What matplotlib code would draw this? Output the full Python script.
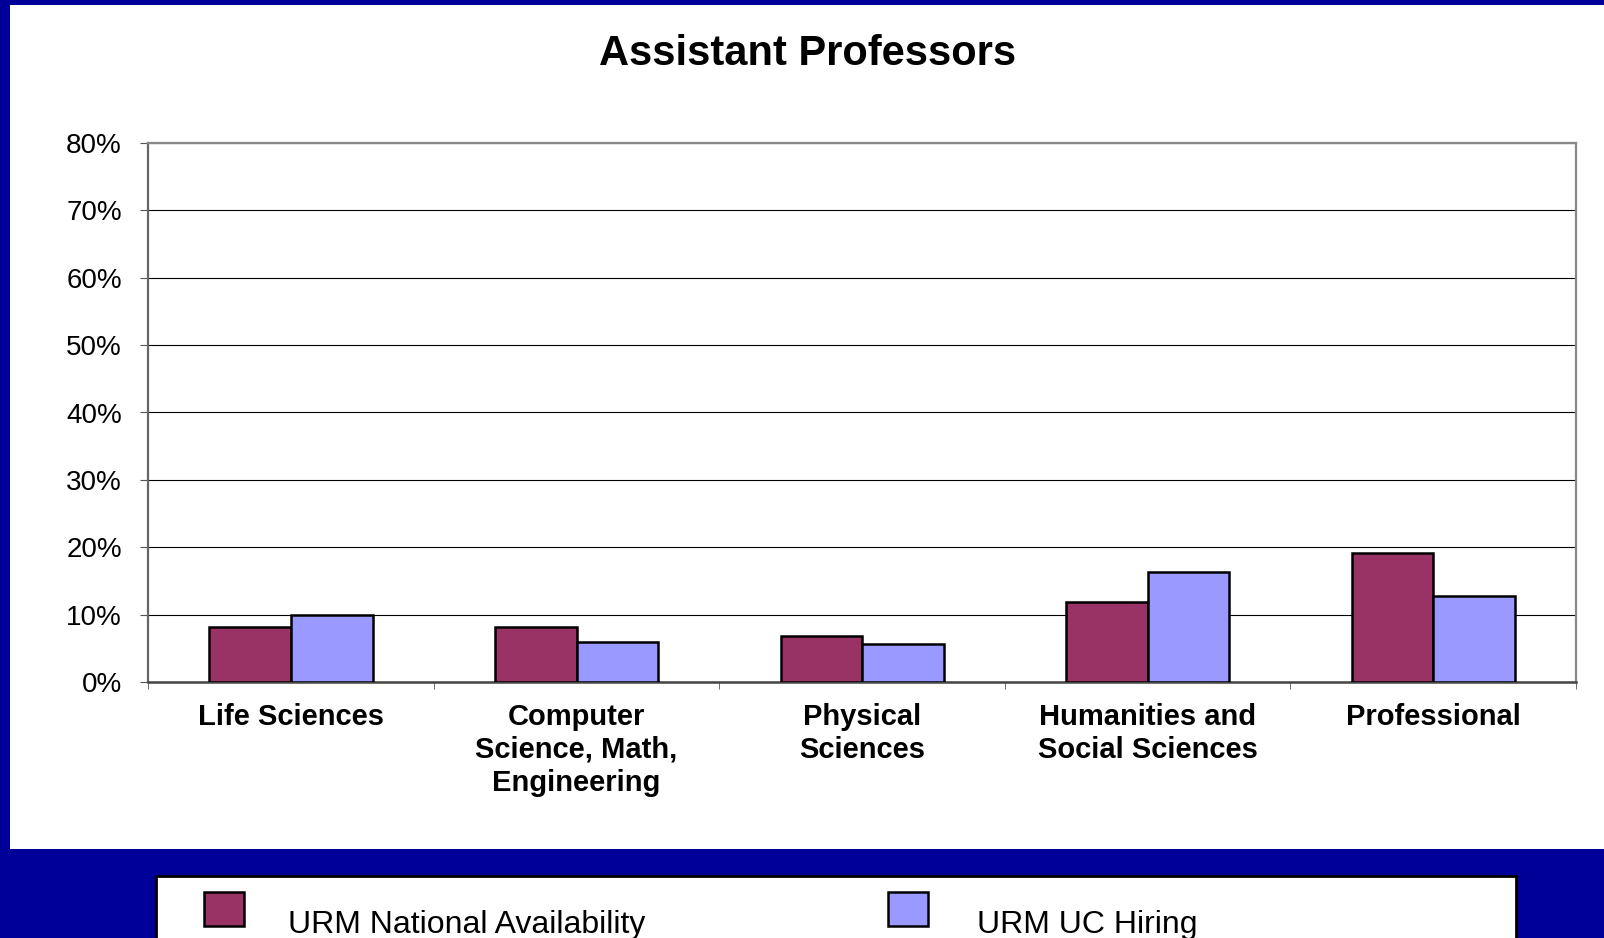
import numpy as np
import matplotlib
matplotlib.use("Agg")
import matplotlib.pyplot as plt
from matplotlib.patches import Rectangle

# Data (percent)
categories = ["Life Sciences",
              "Computer\nScience, Math,\nEngineering",
              "Physical\nSciences",
              "Humanities and\nSocial Sciences",
              "Professional"]
national_availability = [8.2, 8.1, 6.9, 11.9, 19.1]
uc_hiring = [10.0, 5.9, 5.6, 16.3, 12.8]
series_names = ["URM National Availability", "URM UC Hiring"]
y_ticks = [0, 10, 20, 30, 40, 50, 60, 70, 80]

RED = "#993366"
LILAC = "#9999FF"
NAVY = "#000099"

plt.rcParams["font.family"] = ["Liberation Sans", "DejaVu Sans"]

W, H = 1604, 938
fig = plt.figure(figsize=(W / 100, H / 100), dpi=100, facecolor=NAVY)

# white chart panel
fig.add_artist(Rectangle((10.2 / W, 1 - 849 / H), 1 - 10.2 / W, (849 - 5) / H,
                         transform=fig.transFigure, facecolor="white",
                         edgecolor="none", zorder=0))

ax = fig.add_axes([148.3 / W, 1 - 682 / H, (1576 - 148.3) / W, (682 - 143) / H])
ax.set_facecolor("white")

x = np.arange(len(categories))
w = 1 / 3.5
ax.bar(x - w / 2, national_availability, w, color=RED, edgecolor="black",
       linewidth=1.8, zorder=3)
ax.bar(x + w / 2, uc_hiring, w, color=LILAC, edgecolor="black",
       linewidth=1.8, zorder=3)

ax.set_xlim(-0.5, len(categories) - 0.5)
ax.set_ylim(0, 80)
ax.set_yticks(y_ticks)
ax.set_yticklabels([f"{v}%" for v in y_ticks], fontsize=20)
ax.yaxis.grid(True, color="black", linewidth=0.8)
ax.set_axisbelow(True)

ax.set_xticks(x)
ax.set_xticklabels(categories, fontsize=21, fontweight="bold", linespacing=1.22)
ax.set_xticks(np.arange(len(categories) + 1) - 0.5, minor=True)
ax.tick_params(axis="x", which="major", length=0, pad=15)
ax.tick_params(axis="x", which="minor", length=5, color="#555555", direction="out")
ax.tick_params(axis="y", length=6, color="#555555", pad=13, direction="out")

for side in ["top", "right"]:
    ax.spines[side].set_color("#888888")
    ax.spines[side].set_linewidth(1.6)
ax.spines["left"].set_color("#666666")
ax.spines["left"].set_linewidth(1.6)
ax.spines["bottom"].set_color("#444444")
ax.spines["bottom"].set_linewidth(1.8)

fig.text((11 + 1604) / 2 / W, 1 - 54 / H, "Assistant Professors", ha="center",
         va="center", fontsize=30, fontweight="bold")

# legend box at the bottom (runs off the slide edge)
fig.add_artist(Rectangle((155.5 / W, -0.05), (1516 - 155.5) / W, 1 - 875.7 / H + 0.05,
                         transform=fig.transFigure, facecolor="white",
                         edgecolor="black", linewidth=2, zorder=1))
for sx, tx, col, name in [(203.6, 288.5, RED, series_names[0]),
                          (888.0, 977.0, LILAC, series_names[1])]:
    fig.add_artist(Rectangle((sx / W, 1 - 926 / H), 40 / W, 34 / H,
                             transform=fig.transFigure, facecolor=col,
                             edgecolor="black", linewidth=1.8, zorder=2))
    fig.text(tx / W, 1 - 933 / H, name, ha="left", va="baseline", fontsize=23,
             zorder=3)

fig.savefig("out.png", dpi=100, facecolor=NAVY)
